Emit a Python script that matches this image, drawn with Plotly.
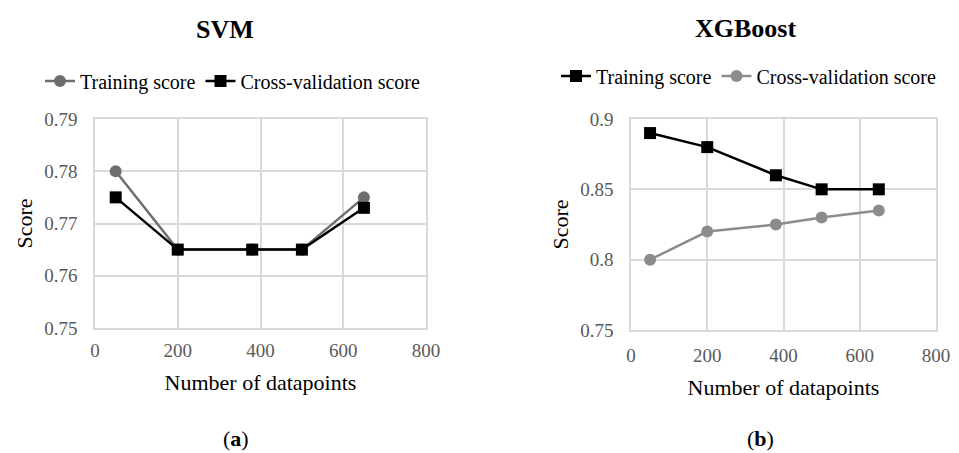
import plotly.graph_objects as go

# SVM data
svm_x = [50, 200, 380, 500, 650]
svm_train = [0.78, 0.765, 0.765, 0.765, 0.775]
svm_cv = [0.775, 0.765, 0.765, 0.765, 0.773]

# XGBoost data
xgb_x = [50, 200, 380, 500, 650]
xgb_train = [0.89, 0.88, 0.86, 0.85, 0.85]
xgb_cv = [0.80, 0.82, 0.825, 0.83, 0.835]

x_ticks = [0, 200, 400, 600, 800]
svm_yticks = [0.75, 0.76, 0.77, 0.78, 0.79]
xgb_yticks = [0.75, 0.8, 0.85, 0.9]
xgb_yticktext = ["0.75", "0.8", "0.85", "0.9"]

FONT = "Liberation Serif, Times New Roman, serif"
GRID = "#d9d9d9"
TICKC = "#595959"
GRAY_DARK = "#6e6e6e"
GRAY_LIGHT = "#8c8c8c"

fig = go.Figure()

fig.add_trace(go.Scatter(x=svm_x, y=svm_train, name="Training score", mode="lines+markers",
                         line=dict(color=GRAY_DARK, width=2.5),
                         marker=dict(symbol="circle", size=12, color=GRAY_DARK),
                         xaxis="x", yaxis="y", legend="legend"))
fig.add_trace(go.Scatter(x=svm_x, y=svm_cv, name="Cross-validation score", mode="lines+markers",
                         line=dict(color="black", width=2.5),
                         marker=dict(symbol="square", size=12, color="black"),
                         xaxis="x", yaxis="y", legend="legend"))

fig.add_trace(go.Scatter(x=xgb_x, y=xgb_train, name="Training score", mode="lines+markers",
                         line=dict(color="black", width=2.5),
                         marker=dict(symbol="square", size=12, color="black"),
                         xaxis="x2", yaxis="y2", legend="legend2"))
fig.add_trace(go.Scatter(x=xgb_x, y=xgb_cv, name="Cross-validation score", mode="lines+markers",
                         line=dict(color=GRAY_LIGHT, width=2.5),
                         marker=dict(symbol="circle", size=12, color=GRAY_LIGHT),
                         xaxis="x2", yaxis="y2", legend="legend2"))

# page has an 8px body margin: figure coords = window coords - 8
OFF = 8
W, H = 959 - OFF, 453 - OFF

def xd(a, b):
    return [(a - OFF) / W, (b - OFF) / W]

def yd(top, bot):
    return [1 - (bot - OFF) / H, 1 - (top - OFF) / H]

def px(x):
    return (x - OFF) / W

def py(y):
    return 1 - (y - OFF) / H

axis_common = dict(showgrid=True, gridcolor=GRID, gridwidth=1.5, showline=True, linecolor=GRID,
                   linewidth=1.5, mirror=True, zeroline=False, ticks="", automargin=False,
                   tickfont=dict(family=FONT, size=19, color=TICKC))

title_font = dict(family=FONT, size=22, color="black")

fig.update_layout(
    width=W, height=H,
    margin=dict(l=0, r=0, t=0, b=0),
    paper_bgcolor="white", plot_bgcolor="white",
    font=dict(family=FONT, color="black"),
    xaxis=dict(domain=xd(95, 426), range=[0, 800], tickvals=x_ticks, anchor="y", ticklabelstandoff=4,
               title=dict(text="Number of datapoints", font=title_font, standoff=15),
               **axis_common),
    yaxis=dict(domain=yd(119, 328), range=[0.75, 0.79], tickvals=svm_yticks, tickformat=".2f", anchor="x",
               ticklabelstandoff=12,
               title=dict(text="Score", font=title_font, standoff=6),
               **axis_common),
    xaxis2=dict(domain=xd(631, 936), range=[0, 800], tickvals=x_ticks, anchor="y2", ticklabelstandoff=7,
                title=dict(text="Number of datapoints", font=title_font, standoff=15),
                **axis_common),
    yaxis2=dict(domain=yd(119, 330), range=[0.75, 0.9], tickvals=xgb_yticks, ticktext=xgb_yticktext,
                anchor="x2", ticklabelstandoff=12,
                title=dict(text="Score", font=title_font, standoff=6),
                **axis_common),
    legend=dict(orientation="h", x=px(233), xanchor="center", y=py(81), yanchor="middle",
                font=dict(family=FONT, size=20, color="black"), bgcolor="rgba(0,0,0,0)",
                traceorder="normal"),
    legend2=dict(orientation="h", x=px(749), xanchor="center", y=py(76), yanchor="middle",
                 font=dict(family=FONT, size=20, color="black"), bgcolor="rgba(0,0,0,0)",
                 traceorder="normal"),
    showlegend=True,
)

annos = [
    dict(text="<b>SVM</b>", x=px(225), y=py(30), size=26),
    dict(text="<b>XGBoost</b>", x=px(745), y=py(28), size=26),
    dict(text="(<b>a</b>)", x=px(236), y=py(438), size=22),
    dict(text="(<b>b</b>)", x=px(760), y=py(438), size=22),
]
for a in annos:
    fig.add_annotation(text=a["text"], x=a["x"], y=a["y"], xref="paper", yref="paper",
                       xanchor="center", yanchor="middle", showarrow=False,
                       font=dict(family=FONT, size=a["size"], color="black"))

fig.write_html("out.html")
